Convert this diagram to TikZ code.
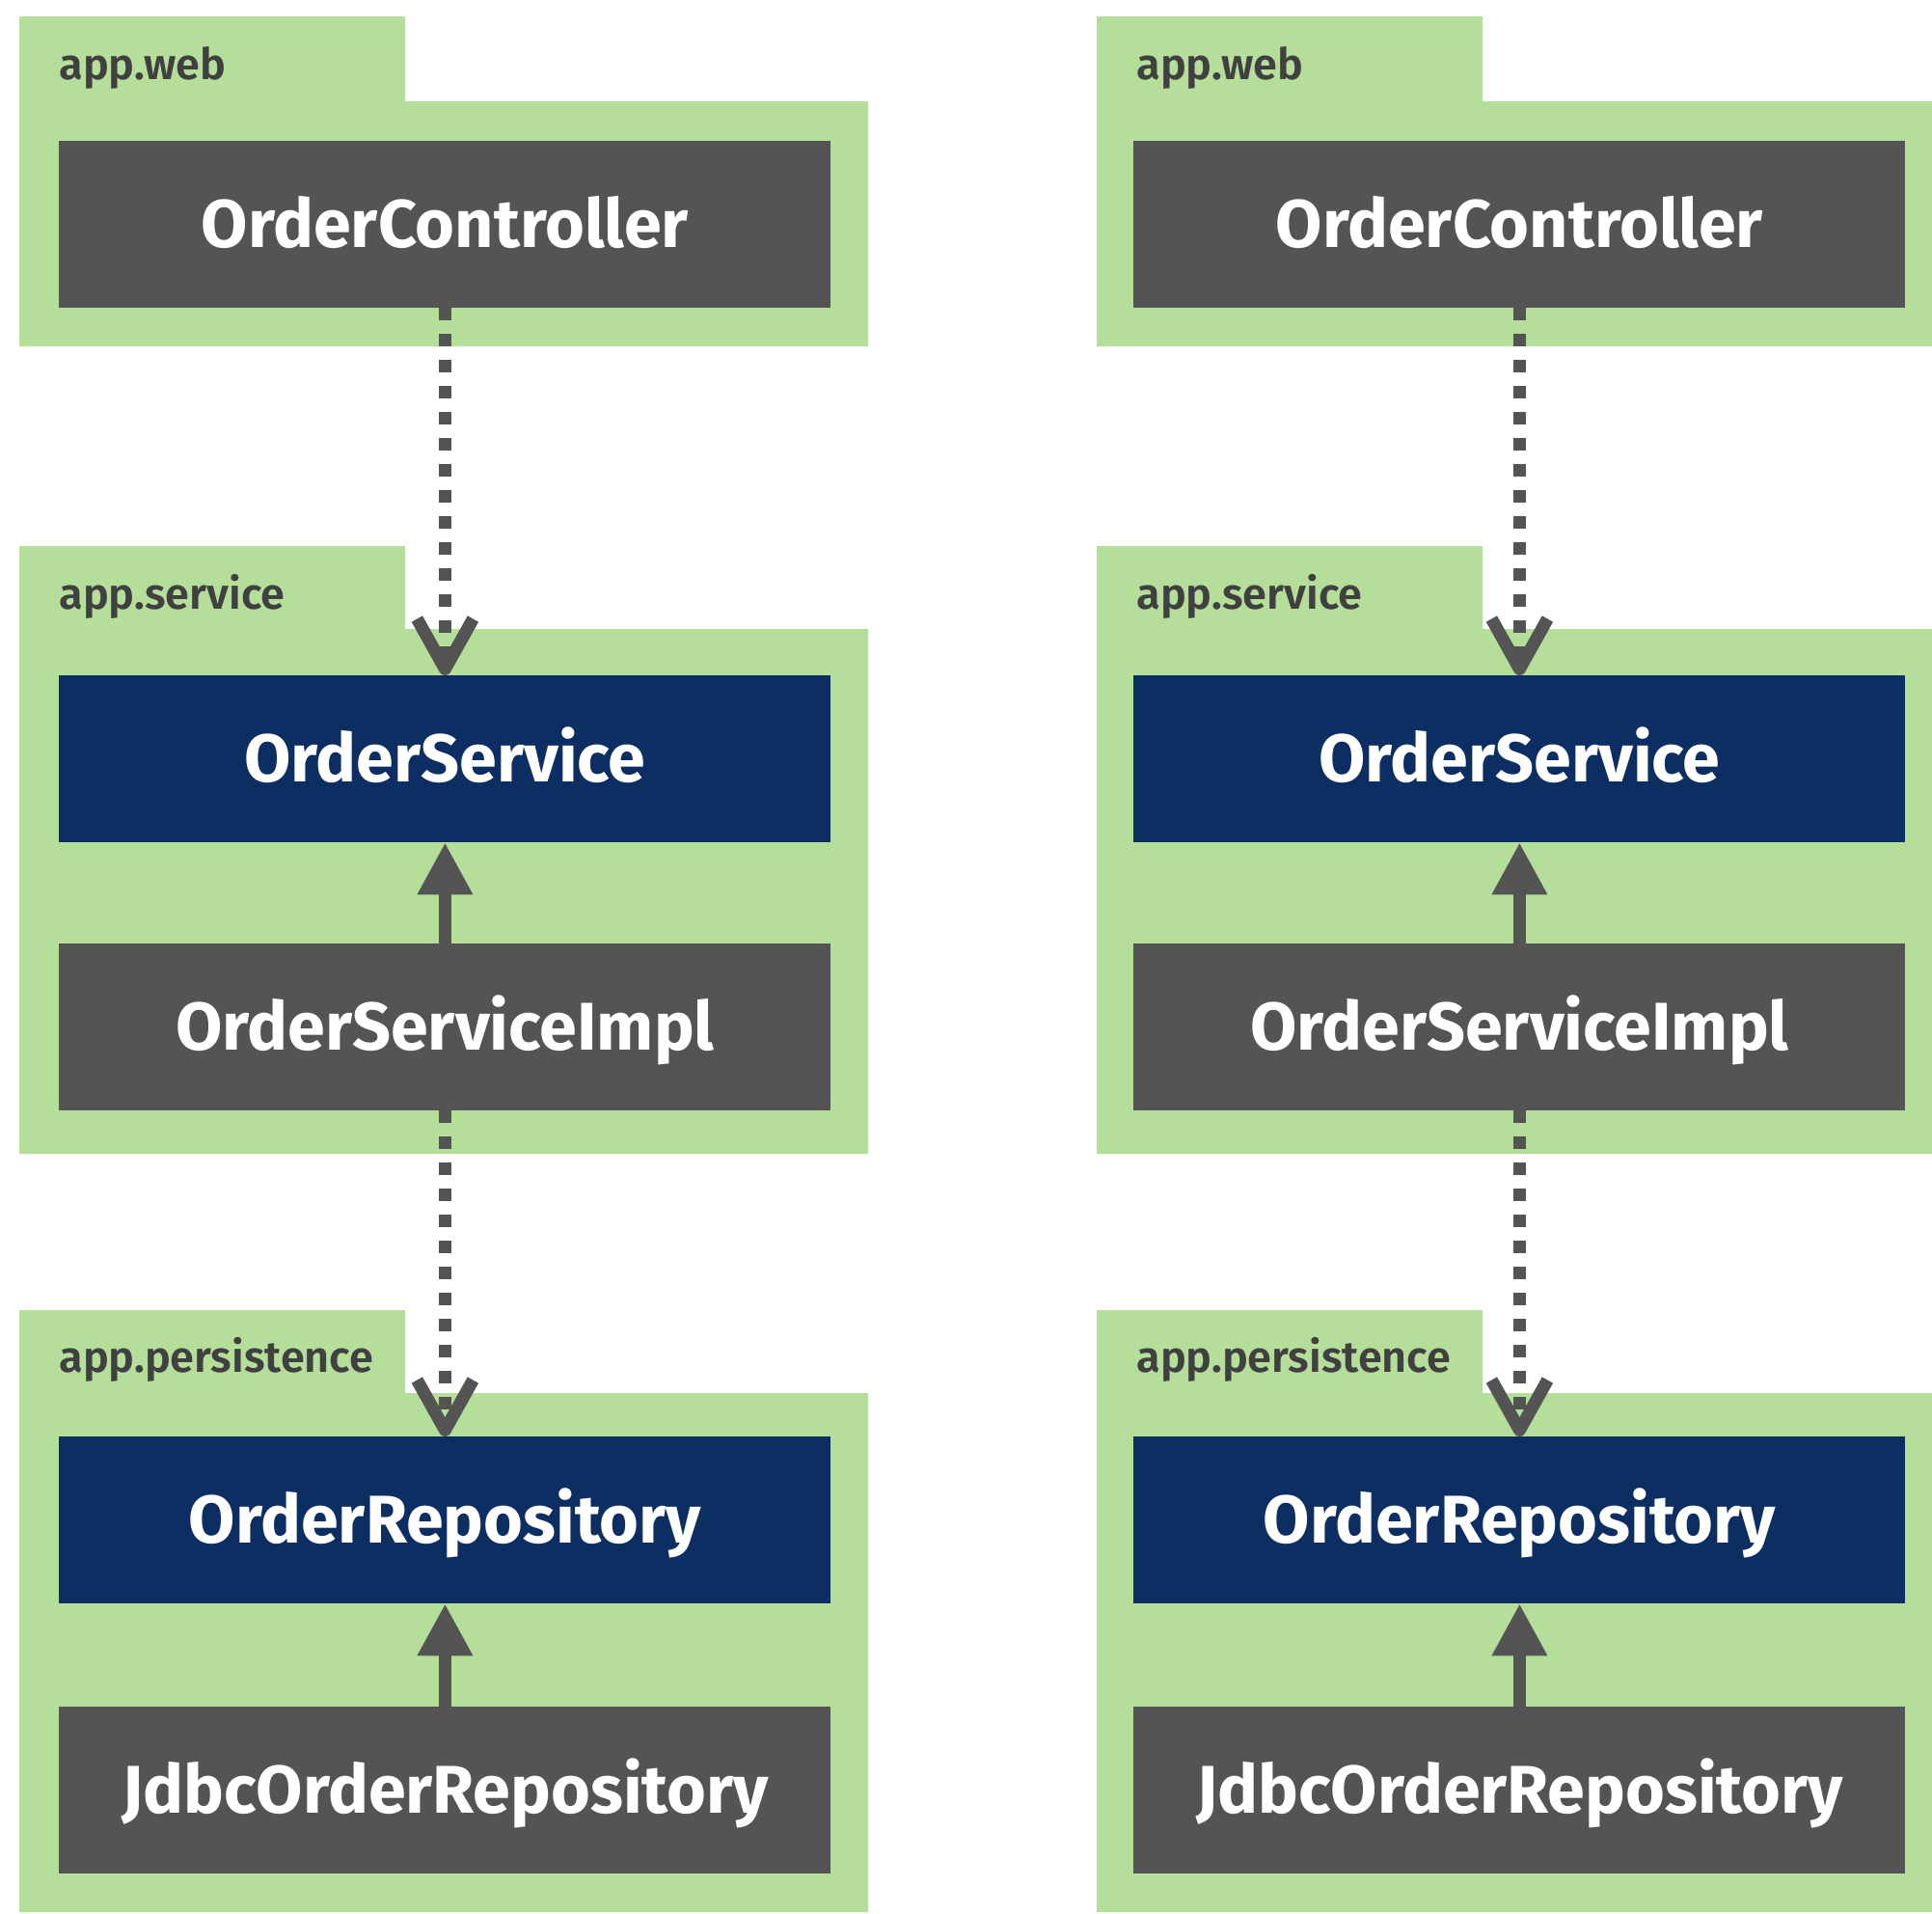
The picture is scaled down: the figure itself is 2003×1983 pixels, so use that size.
\documentclass[tikz,border=0pt]{standalone}
\usepackage{fontspec}
\setmainfont{Fira Sans}
\newfontfamily\labfont{Fira Sans SemiBold}
\usetikzlibrary{arrows.meta}
\definecolor{pkg}{HTML}{B4DE9A}
\definecolor{cls}{HTML}{545454}
\definecolor{ifc}{HTML}{0D2E62}
\definecolor{lab}{HTML}{404040}
\begin{document}
\begin{tikzpicture}[x=0.5pt,y=-0.5pt,
  cbox/.style={minimum width=400pt, minimum height=86.25pt, inner sep=0pt, anchor=north west,
    text=white, font=\fontsize{35}{35}\selectfont\bfseries, text height=24pt, text depth=0pt},
  concrete/.style={cbox, fill=cls},
  iface/.style={cbox, fill=ifc},
  pkgfill/.style={fill=pkg},
  pkglabel/.style={anchor=base west, inner sep=0pt, text=lab, font=\labfont\fontsize{22.5}{22.5}\selectfont},
  dep/.style={draw=cls, line width=6.5pt, dash pattern=on 6.5pt off 7pt,
    -{Straight Barb[length=26pt, width=29pt, line join=round]}},
  realize/.style={draw=cls, line width=6.5pt, -{Triangle[length=27pt, width=27pt]}}
]
\clip (0,0) rectangle (2003,1983);
\foreach \px/\bx/\s in {0/0/L, 1117/1114/R}{
  % packages
  \fill[pkgfill] (20+\px,17) rectangle (420+\px,106) (20+\px,105) rectangle (900+\px,359);
  \fill[pkgfill] (20+\px,566) rectangle (420+\px,653) (20+\px,652) rectangle (900+\px,1196);
  \fill[pkgfill] (20+\px,1358) rectangle (420+\px,1445) (20+\px,1444) rectangle (900+\px,1982);
  \node[pkglabel] (lweb\s) at (61+\px,82) {app.web};
  \node[pkglabel] (lsvc\s) at (61+\px,631) {app.service};
  \node[pkglabel] (lper\s) at (61+\px,1422) {app.persistence};
  % classes
  \node[concrete] (ctrl\s) at (61+\bx,146) {OrderController};
  \node[iface] (svc\s) at (61+\bx,700) {OrderService};
  \node[concrete] (impl\s) at (61+\bx,978) {OrderServiceImpl};
  \node[iface] (repo\s) at (61+\bx,1489) {OrderRepository};
  \node[concrete] (jdbc\s) at (61+\bx,1769) {JdbcOrderRepository};
  % connectors
  \draw[dep] (ctrl\s.south) -- (svc\s.north);
  \draw[realize] (impl\s.north) -- (svc\s.south);
  \draw[dep] (impl\s.south) -- (repo\s.north);
  \draw[realize] (jdbc\s.north) -- (repo\s.south);
}
\end{tikzpicture}
\end{document}
